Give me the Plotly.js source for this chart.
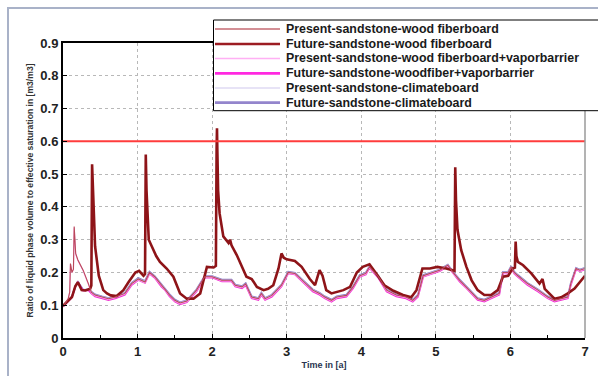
<!DOCTYPE html>
<html>
<head>
<meta charset="utf-8">
<script src="https://cdn.plot.ly/plotly-3.0.1.min.js"></script>
<style>html,body{margin:0;padding:0;background:#fff;}#chart{width:598px;height:376px;}</style>
</head>
<body>
<div id="chart"></div>
<script>
// ---- data ----
const seriesNames = [
  "Present-sandstone-wood fiberboard",
  "Future-sandstone-wood fiberboard",
  "Present-sandstone-wood fiberboard+vaporbarrier",
  "Future-sandstone-woodfiber+vaporbarrier",
  "Present-sandstone-climateboard",
  "Future-sandstone-climateboard"
];
const thresholdValue = 0.6;
const thresholdTime = [0, 7];

const timeFuture = [
  0, 0.06, 0.12, 0.165, 0.2, 0.25, 0.3, 0.365, 0.38, 0.39,
  0.4, 0.41, 0.43, 0.48, 0.54, 0.59, 0.64, 0.72, 0.81, 0.88,
  0.97, 1.02, 1.08, 1.1, 1.11, 1.12, 1.15, 1.19, 1.25, 1.3,
  1.39, 1.48, 1.57, 1.66, 1.75, 1.84, 1.93, 2.02, 2.05, 2.06,
  2.065, 2.07, 2.08, 2.1, 2.15, 2.22, 2.24, 2.26, 2.33, 2.46,
  2.53, 2.56, 2.6, 2.69, 2.75, 2.82, 2.89, 2.93, 2.96, 3.0,
  3.04, 3.11, 3.2, 3.31, 3.38, 3.44, 3.48, 3.53, 3.6, 3.76,
  3.85, 3.94, 4.02, 4.11, 4.2, 4.31, 4.43, 4.56, 4.67, 4.74,
  4.82, 4.92, 5.02, 5.14, 5.25, 5.26, 5.27, 5.29, 5.34, 5.41,
  5.48, 5.56, 5.65, 5.74, 5.83, 5.9, 5.97, 6.03, 6.06, 6.07,
  6.08, 6.1, 6.17, 6.28, 6.39, 6.43, 6.46, 6.5, 6.59, 6.68,
  6.77, 6.86, 6.93, 7.0
];
const futureWood = [
  0.098, 0.11, 0.125, 0.158, 0.17, 0.146, 0.145, 0.15, 0.16, 0.53,
  0.45, 0.38, 0.28, 0.19, 0.146, 0.136, 0.13, 0.128, 0.146, 0.171,
  0.2, 0.205, 0.19, 0.195, 0.56, 0.45, 0.30, 0.28, 0.25, 0.232,
  0.212, 0.187, 0.136, 0.12, 0.12, 0.136, 0.217, 0.215, 0.22, 0.58,
  0.64, 0.57, 0.45, 0.38, 0.31, 0.29, 0.30, 0.283, 0.253, 0.187,
  0.18, 0.17, 0.156, 0.146, 0.15, 0.161, 0.212, 0.258, 0.245, 0.24,
  0.238, 0.235, 0.217, 0.18, 0.161, 0.207, 0.19, 0.146, 0.136, 0.146,
  0.156, 0.2, 0.217, 0.225, 0.197, 0.161, 0.144, 0.131, 0.124, 0.146,
  0.212, 0.212, 0.217, 0.212, 0.205, 0.521, 0.42, 0.33, 0.268, 0.217,
  0.176, 0.146, 0.131, 0.131, 0.146, 0.187, 0.19, 0.212, 0.215, 0.294,
  0.25, 0.232, 0.222, 0.197, 0.166, 0.18, 0.15, 0.14, 0.12, 0.124,
  0.136, 0.151, 0.171, 0.19
];

const timePresent = [
  0, 0.07, 0.09, 0.1, 0.12, 0.14, 0.15, 0.17, 0.2, 0.27,
  0.34, 0.38, 0.43, 0.52, 0.61, 0.7, 0.83, 0.92, 1.01, 1.1,
  1.16, 1.23, 1.32, 1.37, 1.43, 1.5, 1.57, 1.66, 1.79, 1.9,
  1.97, 2.0, 2.13, 2.26, 2.31, 2.4, 2.45, 2.53, 2.62, 2.66,
  2.71, 2.8, 2.93, 3.02, 3.11, 3.24, 3.35, 3.44, 3.51, 3.6,
  3.67, 3.8, 3.89, 3.98, 4.06, 4.11, 4.23, 4.34, 4.47, 4.6,
  4.69, 4.76, 4.83, 4.92, 5.05, 5.16, 5.23, 5.32, 5.41, 5.52,
  5.56, 5.65, 5.74, 5.85, 5.9, 5.97, 6.01, 6.05, 6.1, 6.23,
  6.37, 6.5, 6.59, 6.68, 6.77, 6.81, 6.88, 6.93, 7.0
];
const presentWood = [
  0.095, 0.12, 0.14, 0.227, 0.2, 0.21, 0.34, 0.258, 0.238, 0.207,
  0.166, 0.14, 0.131, 0.125, 0.12, 0.125, 0.136, 0.166, 0.18, 0.171,
  0.2, 0.187, 0.161, 0.15, 0.131, 0.115, 0.107, 0.113, 0.146, 0.187,
  0.187, 0.187, 0.176, 0.176, 0.161, 0.156, 0.165, 0.125, 0.12, 0.136,
  0.12, 0.13, 0.161, 0.2, 0.197, 0.171, 0.146, 0.136, 0.125, 0.115,
  0.125, 0.13, 0.156, 0.19, 0.197, 0.217, 0.187, 0.146, 0.131, 0.125,
  0.115, 0.13, 0.19, 0.197, 0.207, 0.222, 0.2, 0.176, 0.156, 0.13,
  0.12, 0.115, 0.125, 0.136, 0.2, 0.2, 0.217, 0.2, 0.19, 0.166,
  0.146, 0.125, 0.115, 0.12, 0.125, 0.166, 0.212, 0.207, 0.212
];
const presentVapor = [
  0.095, 0.12, 0.14, 0.225, 0.2, 0.21, 0.337, 0.256, 0.236, 0.205,
  0.164, 0.138, 0.129, 0.123, 0.118, 0.123, 0.134, 0.164, 0.178, 0.169,
  0.198, 0.185, 0.159, 0.148, 0.129, 0.113, 0.105, 0.111, 0.144, 0.185,
  0.186, 0.186, 0.174, 0.174, 0.159, 0.154, 0.163, 0.123, 0.118, 0.134,
  0.118, 0.128, 0.159, 0.198, 0.195, 0.169, 0.144, 0.134, 0.123, 0.113,
  0.123, 0.128, 0.154, 0.188, 0.195, 0.215, 0.185, 0.144, 0.129, 0.123,
  0.113, 0.128, 0.188, 0.195, 0.205, 0.22, 0.198, 0.174, 0.154, 0.128,
  0.118, 0.113, 0.123, 0.134, 0.198, 0.198, 0.215, 0.198, 0.188, 0.164,
  0.144, 0.123, 0.113, 0.118, 0.123, 0.164, 0.21, 0.205, 0.21
];
const futureVapor = [
  0.096, 0.111, 0.116, 0.119, 0.124, 0.139, 0.147, 0.159, 0.169, 0.145,
  0.146, 0.136, 0.127, 0.121, 0.116, 0.121, 0.132, 0.162, 0.177, 0.168,
  0.197, 0.184, 0.157, 0.146, 0.127, 0.111, 0.103, 0.109, 0.142, 0.184,
  0.185, 0.185, 0.173, 0.173, 0.157, 0.152, 0.161, 0.121, 0.116, 0.132,
  0.116, 0.126, 0.157, 0.197, 0.194, 0.167, 0.142, 0.132, 0.121, 0.111,
  0.121, 0.126, 0.152, 0.187, 0.194, 0.214, 0.183, 0.142, 0.127, 0.121,
  0.111, 0.126, 0.187, 0.194, 0.204, 0.219, 0.197, 0.172, 0.152, 0.126,
  0.116, 0.111, 0.121, 0.132, 0.197, 0.197, 0.214, 0.197, 0.187, 0.162,
  0.142, 0.121, 0.111, 0.116, 0.121, 0.162, 0.209, 0.204, 0.209
];
const presentClimate = [
  0.097, 0.112, 0.117, 0.12, 0.125, 0.14, 0.148, 0.16, 0.17, 0.146,
  0.147, 0.141, 0.132, 0.126, 0.121, 0.126, 0.137, 0.167, 0.181, 0.172,
  0.201, 0.188, 0.162, 0.151, 0.132, 0.116, 0.108, 0.114, 0.147, 0.188,
  0.188, 0.188, 0.177, 0.177, 0.162, 0.157, 0.166, 0.126, 0.121, 0.137,
  0.121, 0.131, 0.162, 0.201, 0.198, 0.172, 0.147, 0.137, 0.126, 0.116,
  0.126, 0.131, 0.157, 0.191, 0.198, 0.218, 0.188, 0.147, 0.132, 0.126,
  0.116, 0.131, 0.191, 0.198, 0.208, 0.223, 0.201, 0.177, 0.157, 0.131,
  0.121, 0.116, 0.126, 0.137, 0.201, 0.201, 0.218, 0.201, 0.191, 0.167,
  0.147, 0.126, 0.116, 0.121, 0.126, 0.167, 0.213, 0.208, 0.213
];
const futureClimate = [
  0.098, 0.112, 0.117, 0.12, 0.126, 0.141, 0.149, 0.161, 0.171, 0.147,
  0.148, 0.142, 0.133, 0.127, 0.122, 0.127, 0.138, 0.168, 0.183, 0.174,
  0.202, 0.189, 0.163, 0.152, 0.133, 0.117, 0.109, 0.115, 0.148, 0.189,
  0.189, 0.189, 0.178, 0.178, 0.163, 0.158, 0.167, 0.127, 0.122, 0.138,
  0.122, 0.132, 0.163, 0.202, 0.199, 0.173, 0.148, 0.138, 0.127, 0.117,
  0.127, 0.132, 0.158, 0.192, 0.199, 0.219, 0.189, 0.148, 0.133, 0.127,
  0.117, 0.132, 0.192, 0.199, 0.209, 0.224, 0.202, 0.178, 0.158, 0.132,
  0.122, 0.117, 0.127, 0.138, 0.202, 0.202, 0.219, 0.202, 0.192, 0.168,
  0.148, 0.127, 0.117, 0.122, 0.127, 0.168, 0.214, 0.209, 0.214
];
const xTickVals = [0, 1, 2, 3, 4, 5, 6, 7];
const yTickVals = [0, 0.1, 0.2, 0.3, 0.4, 0.5, 0.6, 0.7, 0.8, 0.9];
const yTickText = ["0", "0.1", "0.2", "0.3", "0.4", "0.5", "0.6", "0.7", "0.8", "0.9"];

// ---- styles (legend order) ----
const seriesColors = ["#b84a58", "#8e1418", "#ffa6f0", "#f032d0", "#c4bce6", "#8577c4"];
const seriesWidths = [1.1, 2.6, 1.2, 1.8, 1.2, 1.8];
const legendColors = ["#c46a72", "#9c1c22", "#ffb0f4", "#ff28e0", "#cfc8ee", "#9385cc"];
const legendWidths = [1.5, 2.6, 1.5, 2.8, 1.2, 2.8];

// ---- geometry ----
const W = 598, H = 376, M = {l: 63, r: 13, t: 43, b: 38};
const PW = W - M.l - M.r, PH = H - M.t - M.b;
const px = v => (v - M.l) / PW;
const py = v => (H - M.b - v) / PH;

function line(x, y, i) {
  return {x: x, y: y, name: seriesNames[i], type: "scatter", mode: "lines",
          line: {color: seriesColors[i], width: seriesWidths[i]}, showlegend: false, hoverinfo: "skip"};
}
// drawing order: lowest first
const traces = [
  line(timePresent, futureClimate, 5),
  line(timePresent, presentClimate, 4),
  line(timePresent, futureVapor, 3),
  line(timePresent, presentVapor, 2),
  line(timeFuture, futureWood, 1),
  line(timePresent, presentWood, 0),
  {x: thresholdTime, y: [thresholdValue, thresholdValue], type: "scatter", mode: "lines",
   line: {color: "#ff3c3c", width: 2}, showlegend: false, hoverinfo: "skip"}
];

// ---- legend box built from the series names/styles ----
const legendFont = {family: "Liberation Sans, Arial, sans-serif", size: 12.4, color: "#1a1a1a", weight: "bold"};
const legendRowY = [29, 44, 58.5, 73.3, 88, 102.7];
const shapes = [
  {type: "rect", xref: "paper", yref: "paper", x0: px(8), x1: px(640), y0: py(420), y1: py(8),
   line: {color: "#a9b2c8", width: 2}, layer: "below"},
  {type: "line", xref: "paper", yref: "paper", x0: 1, x1: 1, y0: 0, y1: 1,
   line: {color: "#9a9a9a", width: 1.5}},
  {type: "rect", xref: "paper", yref: "paper", x0: px(213.5), x1: px(640), y0: py(110.7), y1: py(20),
   line: {color: "#000", width: 1}, fillcolor: "#ffffff", layer: "above"}
];
const annotations = [];
seriesNames.forEach((n, i) => {
  shapes.push({type: "line", xref: "paper", yref: "paper", x0: px(215), x1: px(280),
               y0: py(legendRowY[i]), y1: py(legendRowY[i]),
               line: {color: legendColors[i], width: legendWidths[i]}, layer: "above"});
  annotations.push({xref: "paper", yref: "paper", x: px(284), y: py(legendRowY[i]),
                    xanchor: "left", yanchor: "middle", showarrow: false, text: n, font: legendFont});
});

const tickFont = {family: "Liberation Sans, Arial, sans-serif", size: 13, color: "#222", weight: "bold"};
const layout = {
  width: W, height: H,
  margin: {l: M.l, r: M.r, t: M.t, b: M.b, pad: 0},
  paper_bgcolor: "#ffffff", plot_bgcolor: "#ffffff",
  showlegend: false,
  xaxis: {
    range: [0, 7], tickvals: xTickVals, ticktext: xTickVals.map(String),
    showgrid: true, gridcolor: "#b8b8b8", griddash: "dot", gridwidth: 1,
    zeroline: false, showline: true, linecolor: "#000", linewidth: 2, mirror: true,
    ticks: "inside", ticklen: 4, tickcolor: "#000", tickwidth: 1,
    minor: {dtick: 0.5, ticks: "inside", ticklen: 3, tickcolor: "#000", showgrid: false},
    tickfont: tickFont,
    title: {text: "Time in [a]", font: {family: "Liberation Sans, Arial, sans-serif", size: 9, color: "#2a3450", weight: "bold"}, standoff: 4}
  },
  yaxis: {
    range: [0, 0.9], tickvals: yTickVals, ticktext: yTickText,
    showgrid: true, gridcolor: "#b8b8b8", griddash: "dot", gridwidth: 1,
    zeroline: false, showline: true, linecolor: "#000", linewidth: 2,
    ticks: "inside", ticklen: 4, tickcolor: "#000", tickwidth: 1,
    tickfont: tickFont,
    title: {text: "Ratio of liquid phase volume to effective saturation in [m3/m3]",
            font: {family: "Liberation Sans, Arial, sans-serif", size: 8.6, color: "#333", weight: "bold"}, standoff: 5}
  },
  shapes: shapes,
  annotations: annotations
};

Plotly.newPlot("chart", traces, layout, {displayModeBar: false, staticPlot: true});
</script>
</body>
</html>
